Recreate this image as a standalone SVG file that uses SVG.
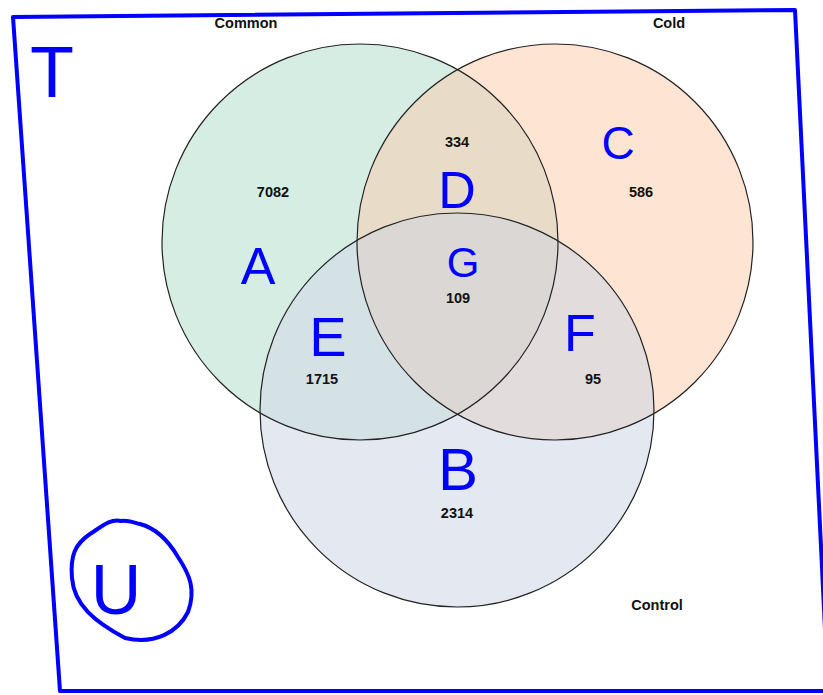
<svg xmlns="http://www.w3.org/2000/svg" width="823" height="695" viewBox="0 0 823 695">
<defs>
<clipPath id="cG"><circle cx="360" cy="242" r="198"/></clipPath>
<clipPath id="cO"><circle cx="555" cy="242" r="198"/></clipPath>
</defs>
<style>
.c{fill:none;stroke:#222;stroke-width:1.2}
.t{font-family:"Liberation Sans",Arial,sans-serif;font-weight:bold;font-size:14.5px;fill:#111;text-anchor:middle}
.h{font-family:"Liberation Sans",Arial,sans-serif;fill:#0000ff;text-anchor:middle}
.ink{fill:none;stroke:#0000ff;stroke-width:4;stroke-linecap:round;stroke-linejoin:round}
</style>
<rect width="823" height="695" fill="#ffffff"/>
<g id="frame">
<path class="ink" d="M13,17 L795,10 L826,650 M13,17 L60,691 L823,691"/>
</g>
<g id="fills">
<circle cx="360" cy="242" r="198" fill="#d6ede4"/>
<circle cx="555" cy="242" r="198" fill="#fde4d3"/>
<circle cx="457" cy="410" r="197" fill="#e3e8f1"/>
<circle cx="555" cy="242" r="198" fill="#e8dcc8" clip-path="url(#cG)"/>
<circle cx="457" cy="410" r="197" fill="#d4e2e6" clip-path="url(#cG)"/>
<circle cx="457" cy="410" r="197" fill="#e2dcdc" clip-path="url(#cO)"/>
<g clip-path="url(#cO)"><circle cx="457" cy="410" r="197" fill="#dad7d4" clip-path="url(#cG)"/></g>
</g>
<g id="set-common">
<circle class="c" cx="360" cy="242" r="198"/>
<text class="t" x="246" y="28">Common</text>
</g>
<g id="set-cold">
<circle class="c" cx="555" cy="242" r="198"/>
<text class="t" x="669" y="28">Cold</text>
</g>
<g id="set-control">
<circle class="c" cx="457" cy="410" r="197"/>
<text class="t" x="657" y="610">Control</text>
</g>
<g id="counts">
<text class="t" x="273" y="197">7082</text>
<text class="t" x="457" y="147">334</text>
<text class="t" x="641" y="197">586</text>
<text class="t" x="458" y="303">109</text>
<text class="t" x="322" y="384">1715</text>
<text class="t" x="593" y="384">95</text>
<text class="t" x="457" y="518">2314</text>
</g>
<g id="annotations">
<text class="h" x="52" y="97" font-size="72">T</text>
<text class="h" x="258" y="284" font-size="52">A</text>
<text class="h" x="457" y="208" font-size="52">D</text>
<text class="h" x="618" y="159" font-size="46">C</text>
<text class="h" x="463" y="277" font-size="42">G</text>
<text class="h" x="328" y="356" font-size="56">E</text>
<text class="h" x="580" y="351" font-size="52">F</text>
<text class="h" x="458" y="490" font-size="60">B</text>
<g id="circled-u">
<path class="ink" d="M121,521 C110,518 100,528 90,534 C75,544 70,556 72,578 C74,605 95,622 125,638 C155,645 178,632 188,612 C196,590 190,575 178,557 C168,540 155,528 140,524 C132,522 127,520 121,521 Z"/>
<text class="h" x="116" y="614" font-size="70">U</text>
</g>
</g>
</svg>
